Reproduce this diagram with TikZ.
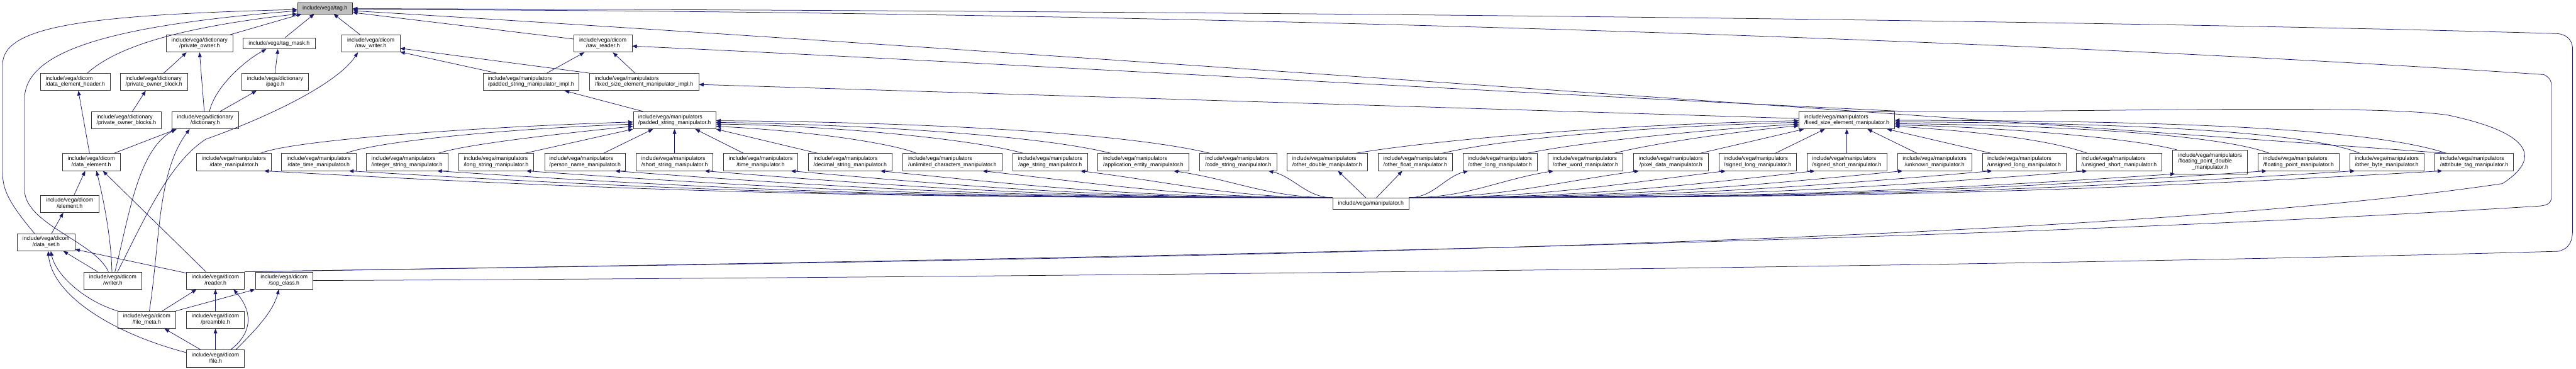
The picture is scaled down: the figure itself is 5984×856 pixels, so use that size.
\documentclass[tikz,border=0pt]{standalone}
\usepackage{fontspec}
\setsansfont{Liberation Sans}
\usepackage{tikz}
\usetikzlibrary{positioning,arrows.meta,calc}
\definecolor{edgecol}{HTML}{191970}
\definecolor{rootcol}{HTML}{BFBFBF}
% first line flush left, last line centred (as dot does with \l)
\newcommand{\hl}[2]{\begin{tabular}{@{}c@{}}\multicolumn{1}{@{}l@{}}{#1}\\#2\end{tabular}}
\newcommand{\dcm}[1]{\hl{include/vega/dicom}{/#1}}
\newcommand{\dct}[1]{\hl{include/vega/dictionary}{/#1}}
\newcommand{\mnp}[1]{\hl{include/vega/manipulators}{/#1}}

\begin{document}
\begin{tikzpicture}[x=1pt,y=1pt,font={\sffamily\fontsize{12.8}{14.3}\selectfont},
   hdr/.style={draw=black!80,line width=1pt,fill=white,inner sep=0pt,minimum height=40pt},
   one/.style={hdr,minimum height=26pt},
   root/.style={one,fill=rootcol},
   inc/.style={->,draw=edgecol,line width=1.1pt},
   >={Triangle[length=11pt,width=8.5pt]},
]
\useasboundingbox (0,0) rectangle (5984,-856);

% top: the header itself
\node[root,minimum width=128pt] (tag) at (755,-19) {include/vega/tag.h};

% dictionary / dicom part
\node[hdr,minimum width=155pt] (po) at (463.5,-101) {\dct{private\_owner.h}};
\node[one,minimum width=167pt] (tmask) at (648.5,-100.5) {include/vega/tag\_mask.h};
\node[hdr,minimum width=135pt] (rw) at (861.5,-101) {\dcm{raw\_writer.h}};
\node[hdr,minimum width=135pt] (rr) at (1400.5,-101) {\dcm{raw\_reader.h}};
\node[hdr,minimum width=162pt] (deh) at (175,-190) {\dcm{data\_element\_header.h}};
\node[hdr,minimum width=157pt] (pob) at (357.5,-190) {\dct{private\_owner\_block.h}};
\node[hdr,minimum width=154pt] (page) at (639,-190) {\dct{page.h}};
\node[hdr,minimum width=163pt] (pobs) at (293.5,-279) {\dct{private\_owner\_blocks.h}};
\node[hdr,minimum width=155pt] (dict) at (476.5,-279) {\dct{dictionary.h}};
\node[hdr,minimum width=134pt] (de) at (212,-376) {\dcm{data\_element.h}};
\node[hdr,minimum width=136pt] (el) at (162,-473) {\dcm{element.h}};
\node[hdr,minimum width=134pt] (dset) at (107,-562) {\dcm{data\_set.h}};
\node[hdr,minimum width=135pt] (reader) at (500.5,-651) {\dcm{reader.h}};
\node[hdr,minimum width=134pt,left=103pt of reader] (writer) {\dcm{writer.h}};
\node[hdr,minimum width=134pt,right=24pt of reader] (sop) {\dcm{sop\_class.h}};
\node[hdr,minimum width=135pt,below=50pt of reader] (pre) {\dcm{preamble.h}};
\node[hdr,minimum width=134pt,left=24pt of pre] (fmeta) {\dcm{file\_meta.h}};
\node[hdr,minimum width=135pt,below=49pt of pre] (file) {\dcm{file.h}};

% manipulator implementation headers
\node[hdr,minimum width=223pt] (pimpl) at (1233.5,-190) {\mnp{padded\_string\_manipulator\_impl.h}};
\node[hdr,minimum width=254pt] (fimpl) at (1496,-190) {\mnp{fixed\_size\_element\_manipulator\_impl.h}};
\node[hdr,minimum width=192pt] (pstr) at (1567,-279) {\mnp{padded\_string\_manipulator.h}};
\node[hdr,minimum width=222pt] (fsize) at (4290,-279) {\mnp{fixed\_size\_element\_manipulator.h}};

% row of manipulators
\foreach \n/\x/\w/\lbl in {da/543.5/173/date, dt/740.5/173/date\_time,
   istr/945.5/189/integer\_string, ls/1152.5/175/long\_string,
   pn/1359/188/person\_name, ss/1567/178/short\_string, time/1767/172/time,
   ds/1975/194/decimal\_string, uc/2212.5/231/unlimited\_characters,
   astr/2439.5/173/age\_string, ae/2656/212/application\_entity,
   cs/2876.5/179/code\_string, od/3083/186/other\_double,
   of/3287.5/173/other\_float, ol/3484.5/173/other\_long,
   ow/3683/174/other\_word, pd/3881.5/173/pixel\_data,
   sl/4083/180/signed\_long, sh/4290/186/signed\_short, uk/4494/172/unknown,
   ul/4702/194/unsigned\_long, us/4922.5/199/unsigned\_short,
   fp/5339.5/189/floating\_point, ob/5544.5/173/other\_byte,
   atag/5747.5/183/attribute\_tag}
  \node[hdr,minimum width=\w pt] (\n) at (\x,-376) {\mnp{\lbl\_manipulator.h}};
\node[hdr,minimum width=174pt,minimum height=55pt] (fd) at (5134,-375.5)
   {\begin{tabular}{@{}c@{}}\multicolumn{1}{@{}l@{}}{include/vega/manipulators}\\
    \multicolumn{1}{@{}l@{}}{/floating\_point\_double}\\\_manipulator.h\end{tabular}};
\node[one,minimum width=177pt] (mh) at (3184.5,-472) {include/vega/manipulator.h};

% includes of tag.h
\draw[inc] ([xshift=-27pt]dset.north) .. controls (20,-470) and (6,-440) .. (6,-400)
   -- (6,-150) .. controls (6,-60) and (200,-35) .. ([yshift=-3pt]tag.west);
\draw[inc] ([xshift=-10pt]writer.north) .. controls (220,-560) and (57,-520) .. (57,-440)
   -- (57,-230) .. controls (57,-120) and (250,-60) .. ([yshift=-6pt]tag.west);
\draw[inc] ([xshift=28pt]deh.north) .. controls (280,-100) and (450,-60) .. (tag.south west);
\draw[inc] ([xshift=-7pt]po.north east) -- ([xshift=10pt]tag.south west);
\draw[inc] ([xshift=14pt]tmask.north) -- ([xshift=-25pt]tag.south);
\draw[inc] ([xshift=-25pt]rw.north) -- ([xshift=20pt]tag.south);
\draw[inc] ([yshift=-10pt]rr.north west) -- ([yshift=-10pt]tag.east);
\draw[inc] ([xshift=-65pt]atag.north) .. controls (4500,-270) and (2000,-95) .. ([yshift=-6pt]tag.east);
\draw[inc] (sop.east) .. controls (3000,-640) and (5000,-610) .. (5944,-583)
   .. controls (5970,-575) and (5976,-560) .. (5976,-530) -- (5976,-115)
   .. controls (5976,-90) and (5960,-80) .. (5941,-78)
   .. controls (5000,-50) and (3000,-25) .. ([yshift=-1pt]tag.east);
\draw[inc] (reader.north east) .. controls (2500,-600) and (4500,-565) .. (5900,-478)
   .. controls (5920,-476) and (5927,-470) .. (5927,-455) -- (5927,-200)
   .. controls (5927,-185) and (5920,-178) .. (5909,-173)
   .. controls (4500,-80) and (2500,-25) .. ([yshift=-3pt]tag.east);

% dictionary and dicom includes
\draw[inc] (reader.north east) .. controls (2500,-600) and (4800,-575) .. (5813,-426)
   .. controls (5900,-370) and (5890,-310) .. (5686,-267)
   .. controls (5500,-240) and (4800,-262) .. (4415,-258)
   .. controls (3500,-215) and (2200,-140) .. ([yshift=-6pt]rr.east);
\draw[inc] ([xshift=23pt]pob.north) -- ([xshift=-30pt]po.south);
\draw[inc] ([xshift=-2pt]dict.north) -- (po.south);
\draw[inc] ([xshift=10pt]dict.north) .. controls (500,-200) and (570,-140) .. ([xshift=-30pt]tmask.south);
\draw[inc] (page.north) -- ([xshift=-3pt]tmask.south);
\draw[inc] ([xshift=35pt]dict.north) -- ([xshift=-43pt]page.south);
\draw[inc] ([xshift=14pt]pobs.north) -- ([xshift=-19pt]pob.south);
\draw[inc] ([xshift=-4pt]de.north) -- ([xshift=7pt]deh.south);
\draw[inc] ([xshift=11pt]writer.north) .. controls (330,-520) and (390,-380) .. (478,-323)
   .. controls (600,-280) and (780,-200) .. ([xshift=-30pt]rw.south);
\draw[inc] ([xshift=53pt]de.north) -- ([xshift=-66pt]dict.south);
\draw[inc] ([xshift=5pt]writer.north) .. controls (300,-500) and (320,-350) .. ([xshift=-68pt]dict.south);
\draw[inc] ([xshift=6pt]fmeta.north) .. controls (372,-560) and (365,-400) .. ([xshift=-36pt]dict.south);
\draw[inc] ([xshift=10pt]el.north) -- ([xshift=-14pt]de.south);
\draw[inc] ([xshift=-2pt]writer.north) .. controls (258,-540) and (235,-440) .. ([xshift=12pt]de.south);
\draw[inc] ([xshift=-22pt]reader.north) -- ([xshift=27pt]de.south);
\draw[inc] ([xshift=13pt]dset.north) -- ([xshift=-15pt]el.south);
\draw[inc] ([xshift=-35pt]writer.north) -- ([xshift=40pt]dset.south);
\draw[inc] ([yshift=-3pt]reader.north west) -- ([yshift=4pt]dset.south east);
\draw[inc] (fmeta.north west) .. controls (200,-700) and (130,-640) .. ([xshift=11pt]dset.south);
\draw[inc] ([yshift=14pt]file.west) .. controls (250,-770) and (120,-680) .. ([xshift=5pt]dset.south);
\draw[inc] ([xshift=36pt]fmeta.north) -- ([xshift=-44pt]reader.south);
\draw[inc] (pre.north) -- (reader.south);
\draw[inc] ([xshift=35pt]file.north) .. controls (590,-770) and (585,-720) .. ([xshift=42pt]reader.south);
\draw[inc] (fmeta.north east) -- (sop.south west);
\draw[inc] ([xshift=47pt]file.north) .. controls (600,-760) and (635,-720) .. ([xshift=-12pt]sop.south);
\draw[inc] ([xshift=-34pt]file.north) -- ([xshift=41pt]fmeta.south);
\draw[inc] (file.north) -- (pre.south);

% implementation headers
\draw[inc] (fimpl.north west) -- ([yshift=-11pt]rw.east);
\draw[inc] ([xshift=-80pt]pimpl.north) -- ([yshift=1pt]rw.south east);
\draw[inc] ([xshift=37pt]pimpl.north) -- ([xshift=-43pt]rr.south);
\draw[inc] ([xshift=-21pt]fimpl.north) -- ([xshift=23pt]rr.south);
\draw[inc] ([xshift=-73pt]pstr.north) -- ([xshift=78pt]pimpl.south);
\draw[inc] ([yshift=4pt]fsize.west) -- ([yshift=-6pt]fimpl.east);

% string manipulators -> padded_string_manipulator.h
\draw[inc] ([xshift=62pt]da.north) .. controls (680,-325) and (1100,-295) .. ([yshift=-4pt]pstr.west);
\draw[inc] ([xshift=63pt]dt.north) .. controls (870,-330) and (1150,-300) .. ([yshift=-9pt]pstr.west);
\draw[inc] ([xshift=73pt]istr.north) .. controls (1080,-335) and (1300,-310) .. ([yshift=-14pt]pstr.west);
\draw[inc] ([xshift=67pt]ls.north) -- (pstr.south west);
\draw[inc] ([xshift=43pt]pn.north) -- ([xshift=-50pt]pstr.south);
\draw[inc] (ss.north) -- (pstr.south);
\draw[inc] ([xshift=-40pt]time.north) -- ([xshift=48pt]pstr.south);
\draw[inc] ([xshift=-76pt]ds.north) -- (pstr.south east);
\draw[inc] ([xshift=-84pt]uc.north) .. controls (2080,-335) and (1900,-305) .. ([yshift=-14pt]pstr.east);
\draw[inc] ([xshift=-63pt]astr.north) .. controls (2250,-320) and (1900,-290) .. ([yshift=-9pt]pstr.east);
\draw[inc] ([xshift=-76pt]ae.north) .. controls (2400,-310) and (1950,-288) .. ([yshift=-5pt]pstr.east);
\draw[inc] ([xshift=-66pt]cs.north) .. controls (2600,-305) and (2100,-283) .. ([yshift=-1pt]pstr.east);

% fixed size manipulators -> fixed_size_element_manipulator.h
\draw[inc] ([xshift=67pt]od.north) .. controls (3300,-330) and (3700,-290) .. ([yshift=-1pt]fsize.west);
\draw[inc] ([xshift=63pt]of.north) .. controls (3500,-320) and (3850,-292) .. ([yshift=-5pt]fsize.west);
\draw[inc] ([xshift=63pt]ol.north) .. controls (3700,-325) and (4000,-298) .. ([yshift=-9pt]fsize.west);
\draw[inc] ([xshift=67pt]ow.north) .. controls (3850,-330) and (4060,-302) .. ([yshift=-13pt]fsize.west);
\draw[inc] ([xshift=68pt]pd.north) -- ([xshift=12pt]fsize.south west);
\draw[inc] ([xshift=41pt]sl.north) -- ([xshift=-51pt]fsize.south);
\draw[inc] (sh.north) -- (fsize.south);
\draw[inc] ([xshift=-41pt]uk.north) -- ([xshift=48pt]fsize.south);
\draw[inc] ([xshift=-77pt]ul.north) -- ([xshift=-18pt]fsize.south east);
\draw[inc] ([xshift=-74pt]us.north) .. controls (4750,-320) and (4550,-302) .. ([yshift=-14pt]fsize.east);
\draw[inc] ([xshift=10pt]fd.north west) .. controls (4950,-320) and (4650,-295) .. ([yshift=-11pt]fsize.east);
\draw[inc] ([xshift=-68pt]fp.north) .. controls (5150,-310) and (4750,-290) .. ([yshift=-8pt]fsize.east);
\draw[inc] ([xshift=-63pt]ob.north) .. controls (5350,-300) and (4850,-284) .. ([yshift=-4pt]fsize.east);
\draw[inc] ([xshift=-65pt]atag.north) .. controls (5500,-295) and (5000,-280) .. (fsize.east);

% manipulator.h pulls in every manipulator
\foreach \n/\a/\b/\c in {da/2103/1582/-450, dt/2182/1702/-450, istr/2264/1827/-450,
   ls/2347/1953/-448, pn/2429/2079/-445, ss/2512/2206/-442, time/2592/2328/-440,
   ds/2676/2455/-438, uc/2771/2600/-432, astr/2861/2738/-425, ae/2948/2870/-418,
   cs/3036/3005/-410}
  \draw[inc] (mh.north west) .. controls (\a,-459) and (\b,\c) .. ([xshift=70pt]\n.south);
\draw[inc] ([xshift=-12pt]mh.north) -- ([xshift=25pt]od.south);
\draw[inc] ([xshift=13pt]mh.north) -- ([xshift=-30pt]of.south);
\foreach \n/\a/\b/\c in {ol/3328/3357/-410, ow/3407/3478/-418, pd/3487/3599/-425,
   sl/3567/3722/-432, sh/3650/3848/-438, uk/3732/3973/-440, ul/3815/4100/-442,
   us/3903/4234/-445, fp/4070/4488/-450, ob/4152/4613/-450, atag/4233/4737/-450}
  \draw[inc] (mh.north east) .. controls (\a,-459) and (\b,\c) .. ([xshift=-74pt]\n.south);
\draw[inc] (mh.north east) .. controls (3985,-459) and (4359,-450) .. ([xshift=6pt]fd.south west);
\end{tikzpicture}
\end{document}
